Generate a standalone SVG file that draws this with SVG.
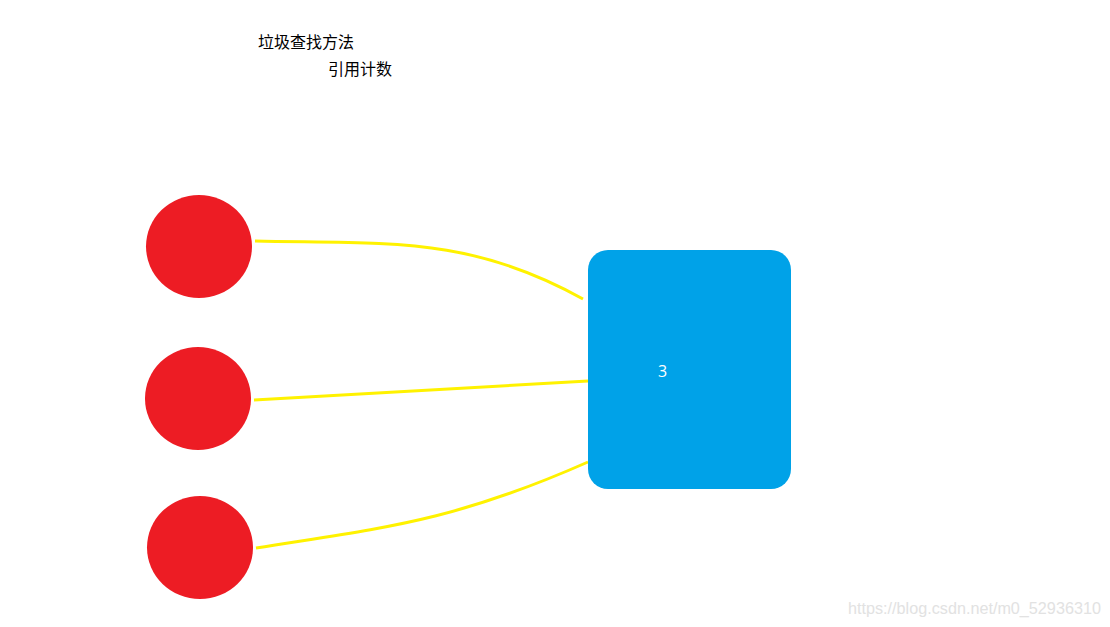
<svg xmlns="http://www.w3.org/2000/svg" width="1110" height="627" viewBox="0 0 1110 627">
<style>
.t{font-family:"Microsoft YaHei","Noto Sans CJK SC",sans-serif;font-size:16px;fill:#000}
.c{fill:#ED1C24}
.l{fill:none;stroke:#FFF200;stroke-width:3}
.wm{font-family:"Liberation Sans",Arial,sans-serif;font-size:16.2px;fill:#E2E2E2}
</style>
<rect width="1110" height="627" fill="#fff"/>
<g id="title"><text class="t" x="258" y="48">垃圾查找方法</text></g>
<g id="subtitle"><text class="t" x="328" y="75">引用计数</text></g>
<g id="connectors">
<path class="l" d="M255,241 C390,244 470,236 583,299"/>
<path class="l" d="M254,400 L588,381"/>
<path class="l" d="M256,548 C380,528 450,523 588,462"/>
</g>
<g id="obj1"><ellipse class="c" cx="199" cy="246.5" rx="53" ry="51.5"/></g>
<g id="obj2"><ellipse class="c" cx="198" cy="398.5" rx="53" ry="51.5"/></g>
<g id="obj3"><ellipse class="c" cx="200" cy="547.5" rx="53" ry="51.5"/></g>
<g id="target">
<rect x="588" y="250" width="203" height="239" rx="20" ry="20" fill="#00A2E8"/>
<text x="658" y="377" font-family="Open Sans,Liberation Sans,sans-serif" font-size="16" fill="#fff">3</text>
</g>
<text class="wm" x="848" y="614">https://blog.csdn.net/m0_52936310</text>
</svg>
